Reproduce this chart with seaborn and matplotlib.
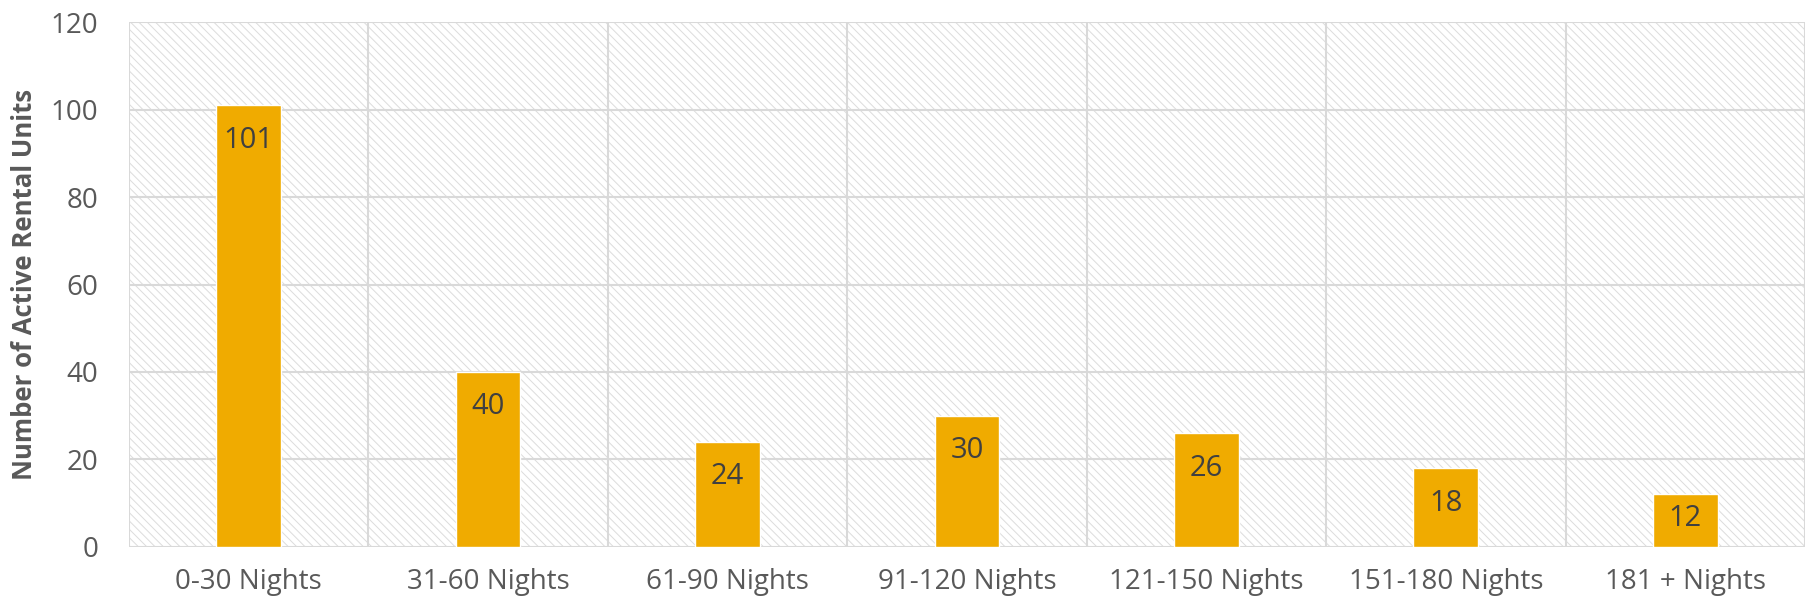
import seaborn as sns
import matplotlib.pyplot as plt
import matplotlib.patches as mpatches
import pandas as pd

# Chart data
categories = ['0-30 Nights', '31-60 Nights', '61-90 Nights', '91-120 Nights',
              '121-150 Nights', '151-180 Nights', '181 + Nights']
units = [101, 40, 24, 30, 26, 18, 12]
y_ticks = [0, 20, 40, 60, 80, 100, 120]

df = pd.DataFrame({'Category': categories, 'Units': units})

sns.set_style('white')
plt.rcParams['font.family'] = ['Open Sans', 'DejaVu Sans']
plt.rcParams['hatch.linewidth'] = 0.7

fig = plt.figure(figsize=(18.1, 6.05), dpi=100)
ax = fig.add_axes([0.0713, 0.0959, 0.9259, 0.8677])

# hatched plot background
bg = mpatches.Rectangle((0, 0), 1, 1, transform=ax.transAxes, facecolor='white',
                        edgecolor='#dcdcdc', hatch='\\\\\\\\', linewidth=0, zorder=0)
ax.add_patch(bg)

sns.barplot(data=df, x='Category', y='Units', color='#F0AB00', width=0.27,
            saturation=1, ax=ax, zorder=3)

ax.set_xlim(-0.5, len(categories) - 0.5)
ax.set_ylim(0, 120)
ax.set_yticks(y_ticks)

# gridlines
for y in y_ticks:
    ax.axhline(y, color='#d9d9d9', linewidth=1.5, zorder=1)
for i in range(len(categories) + 1):
    ax.axvline(i - 0.5, color='#d9d9d9', linewidth=1.5, zorder=1)

# value labels inside the bars (kept inside short bars)
to_disp = ax.transData
to_data = ax.transData.inverted()
base = to_disp.transform((0, 0))[1]
for i, v in enumerate(units):
    top = to_disp.transform((i, v))[1]
    yd = max(top - 35, base + 28)
    ylab = to_data.transform((0, yd))[1]
    ax.text(i, ylab, str(v), ha='center', va='center', fontsize=21,
            color='#404040', zorder=4)

for s in ax.spines.values():
    s.set_visible(False)
ax.tick_params(axis='both', length=0, labelsize=20, labelcolor='#595959')
ax.tick_params(axis='x', pad=15)
ax.tick_params(axis='y', pad=22)
ax.set_xlabel('')
ax.set_ylabel('Number of Active Rental Units', fontsize=18.5, fontweight='bold',
              color='#595959', labelpad=9)

fig.savefig('out.png', dpi=100)
